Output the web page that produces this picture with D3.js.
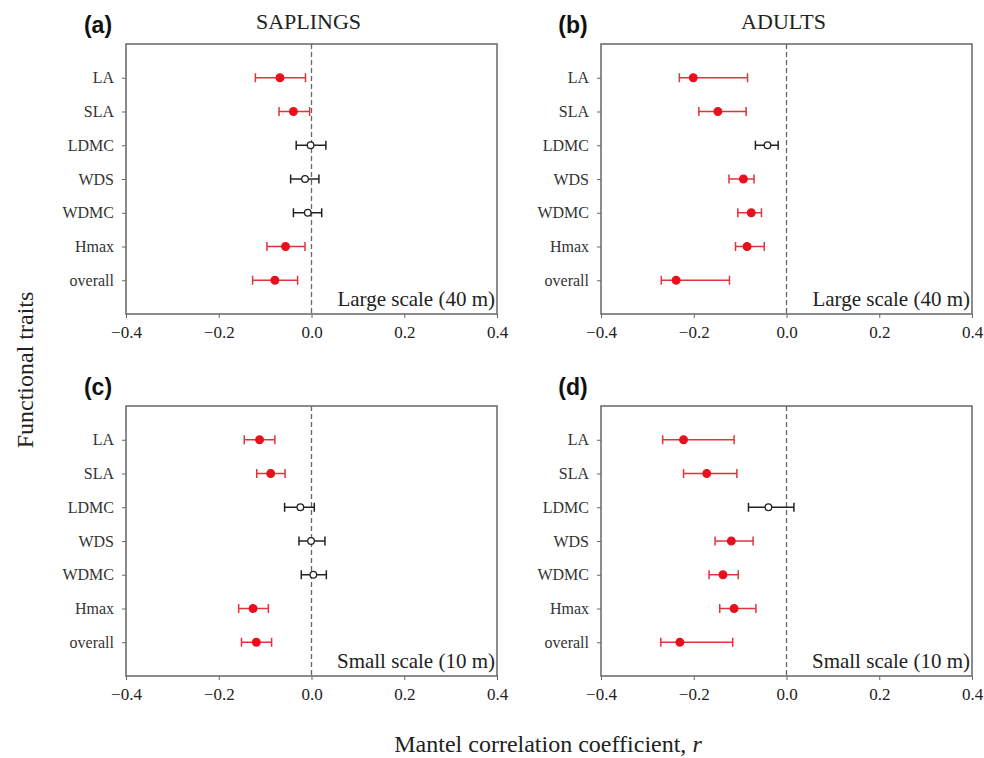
<html>
<head>
<meta charset="utf-8">
<script src="https://cdn.jsdelivr.net/npm/d3@7"></script>
<style>
  body { margin: 0; background: #fff; }
  svg text { font-family: "Liberation Serif", "DejaVu Serif", serif; }
  svg text.tag { font-family: "Liberation Sans", Arial, sans-serif; }
</style>
</head>
<body>
<script>
var W = 984, H = 758;

var traits = ["LA", "SLA", "LDMC", "WDS", "WDMC", "Hmax", "overall"];
var xTicks = [-0.4, -0.2, 0, 0.2, 0.4];

// (a) saplings, large scale
var saplingsLargeR  = [-0.068, -0.039, -0.002, -0.014, -0.008, -0.056, -0.079];
var saplingsLargeLo = [-0.121, -0.070, -0.033, -0.045, -0.039, -0.096, -0.127];
var saplingsLargeHi = [-0.013, -0.004,  0.031,  0.016,  0.022, -0.014, -0.030];
var saplingsLargeSig = [true, true, false, false, false, true, true];

// (b) adults, large scale
var adultsLargeR  = [-0.201, -0.148, -0.041, -0.093, -0.076, -0.085, -0.238];
var adultsLargeLo = [-0.231, -0.189, -0.067, -0.124, -0.105, -0.110, -0.270];
var adultsLargeHi = [-0.084, -0.087, -0.018, -0.070, -0.054, -0.048, -0.123];
var adultsLargeSig = [true, true, false, true, true, true, true];

// (c) saplings, small scale
var saplingsSmallR  = [-0.112, -0.088, -0.024, -0.001,  0.004, -0.126, -0.119];
var saplingsSmallLo = [-0.145, -0.118, -0.058, -0.027, -0.022, -0.157, -0.151];
var saplingsSmallHi = [-0.079, -0.057,  0.006,  0.029,  0.032, -0.093, -0.086];
var saplingsSmallSig = [true, true, false, false, false, true, true];

// (d) adults, small scale
var adultsSmallR  = [-0.222, -0.172, -0.039, -0.119, -0.137, -0.113, -0.230];
var adultsSmallLo = [-0.267, -0.222, -0.082, -0.154, -0.167, -0.144, -0.271];
var adultsSmallHi = [-0.113, -0.107,  0.016, -0.072, -0.104, -0.066, -0.116];
var adultsSmallSig = [true, true, false, true, true, true, true];

var panels = [
  {tag: "(a)", title: "SAPLINGS", note: "Large scale (40 m)", left: 126, top: 44,
   r: saplingsLargeR, lo: saplingsLargeLo, hi: saplingsLargeHi, sig: saplingsLargeSig},
  {tag: "(b)", title: "ADULTS", note: "Large scale (40 m)", left: 601, top: 44,
   r: adultsLargeR, lo: adultsLargeLo, hi: adultsLargeHi, sig: adultsLargeSig},
  {tag: "(c)", title: "", note: "Small scale (10 m)", left: 126, top: 406,
   r: saplingsSmallR, lo: saplingsSmallLo, hi: saplingsSmallHi, sig: saplingsSmallSig},
  {tag: "(d)", title: "", note: "Small scale (10 m)", left: 601, top: 406,
   r: adultsSmallR, lo: adultsSmallLo, hi: adultsSmallHi, sig: adultsSmallSig}
];

var pw = 371, ph = 270;
var red = "#e8101c", barRed = "#e0333b", axisCol = "#666";

var svg = d3.select("body").append("svg")
  .attr("width", W).attr("height", H);

var x = d3.scaleLinear().domain([-0.4, 0.4]).range([0, pw]);
var y = d3.scaleLinear().domain([0, traits.length + 1]).range([0, ph]);

panels.forEach(function(p) {
  var g = svg.append("g").attr("transform", "translate(" + p.left + "," + p.top + ")");

  // frame
  g.append("rect")
    .attr("width", pw).attr("height", ph)
    .attr("fill", "none").attr("stroke", axisCol).attr("stroke-width", 1.5);

  // x axis
  var xa = g.append("g").attr("transform", "translate(0," + ph + ")")
    .call(d3.axisBottom(x).tickValues(xTicks).tickSize(4).tickSizeOuter(0).tickPadding(8)
      .tickFormat(d3.format(".1f")));
  xa.attr("font-family", null);
  xa.select(".domain").remove();
  xa.selectAll("line").attr("stroke", axisCol);
  xa.selectAll("text").attr("font-size", 17).attr("fill", "#222");

  // y axis
  var ya = g.append("g")
    .call(d3.axisLeft(y).tickValues(d3.range(1, traits.length + 1)).tickSize(4).tickSizeOuter(0).tickPadding(8)
      .tickFormat(function(d) { return traits[d - 1]; }));
  ya.attr("font-family", null);
  ya.select(".domain").remove();
  ya.selectAll("line").attr("stroke", axisCol);
  ya.selectAll("text").attr("font-size", 16).attr("fill", "#333");

  // zero line
  g.append("line")
    .attr("x1", x(0)).attr("x2", x(0)).attr("y1", 0).attr("y2", ph)
    .attr("stroke", "#666").attr("stroke-width", 1.3).attr("stroke-dasharray", "5,3");

  var rows = traits.map(function(t, i) {
    return {i: i + 1, r: p.r[i], lo: p.lo[i], hi: p.hi[i], sig: p.sig[i]};
  });

  var bars = g.selectAll(".bar").data(rows).enter().append("g");
  bars.append("line")
    .attr("x1", function(d) { return x(d.lo); })
    .attr("x2", function(d) { return x(d.hi); })
    .attr("y1", function(d) { return y(d.i); })
    .attr("y2", function(d) { return y(d.i); });
  bars.append("line")
    .attr("x1", function(d) { return x(d.lo); })
    .attr("x2", function(d) { return x(d.lo); })
    .attr("y1", function(d) { return y(d.i) - 4.5; })
    .attr("y2", function(d) { return y(d.i) + 4.5; });
  bars.append("line")
    .attr("x1", function(d) { return x(d.hi); })
    .attr("x2", function(d) { return x(d.hi); })
    .attr("y1", function(d) { return y(d.i) - 4.5; })
    .attr("y2", function(d) { return y(d.i) + 4.5; });
  bars.selectAll("line")
    .attr("stroke", function(d) { return d.sig ? barRed : "#222"; })
    .attr("stroke-width", 1.5);

  g.selectAll(".pt").data(rows).enter().append("circle")
    .attr("cx", function(d) { return x(d.r); })
    .attr("cy", function(d) { return y(d.i); })
    .attr("r", function(d) { return d.sig ? 3.8 : 3.3; })
    .attr("fill", function(d) { return d.sig ? red : "#fff"; })
    .attr("stroke", function(d) { return d.sig ? red : "#222"; })
    .attr("stroke-width", 1.3);

  // scale note
  g.append("text")
    .attr("x", pw - 2).attr("y", ph - 8)
    .attr("text-anchor", "end").attr("font-size", 21).attr("fill", "#222")
    .text(p.note);

  // panel tag
  svg.append("text")
    .attr("class", "tag")
    .attr("x", p.left - 28).attr("y", p.top - 11)
    .attr("text-anchor", "middle")
    .attr("font-size", 23).attr("font-weight", "bold").attr("fill", "#111")
    .text(p.tag);

  if (p.title) {
    svg.append("text")
      .attr("x", p.left + x(0) - 3).attr("y", p.top - 15)
      .attr("text-anchor", "middle").attr("font-size", 22).attr("fill", "#222")
      .text(p.title);
  }
});

// axis titles
svg.append("text")
  .attr("transform", "translate(33,370) rotate(-90)")
  .attr("text-anchor", "middle").attr("font-size", 24).attr("fill", "#222")
  .text("Functional traits");

var xt = svg.append("text")
  .attr("x", 548).attr("y", 752)
  .attr("text-anchor", "middle").attr("font-size", 24).attr("fill", "#222");
xt.append("tspan").text("Mantel correlation coefficient, ");
xt.append("tspan").attr("font-style", "italic").text("r");
</script>
</body>
</html>
